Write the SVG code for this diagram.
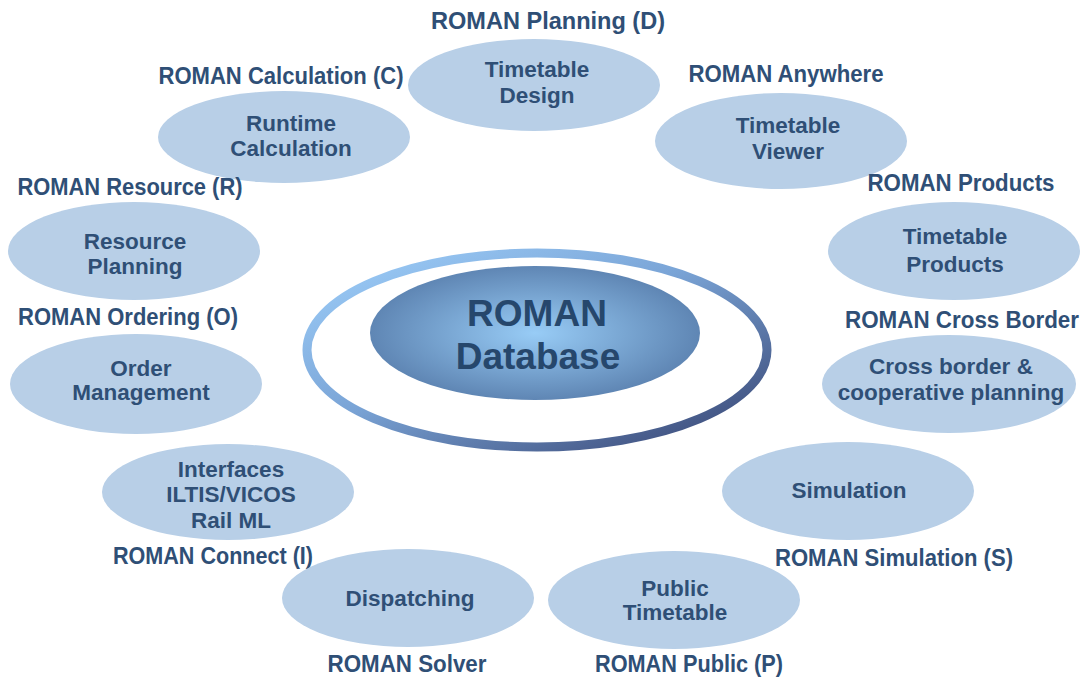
<svg xmlns="http://www.w3.org/2000/svg" width="1084" height="680" viewBox="0 0 1084 680">
<defs>
<linearGradient id="ring" x1="0" y1="0" x2="1" y2="1">
<stop offset="0" stop-color="#9fd0fb"/>
<stop offset="0.45" stop-color="#7aa4d6"/>
<stop offset="1" stop-color="#34406e"/>
</linearGradient>
<radialGradient id="core" cx="0.5" cy="0.5" r="0.5">
<stop offset="0" stop-color="#98ccf6"/>
<stop offset="1" stop-color="#5f86b4"/>
</radialGradient>
<style>
.n{fill:#b8cfe7;}
.t{font-family:"Liberation Sans",Arial,sans-serif;font-size:22.5px;font-weight:bold;fill:#2f4f76;text-anchor:middle;}
.h{font-size:23px;}
.c{font-size:37px;fill:#26476c;}
</style>
</defs>
<rect width="1084" height="680" fill="#ffffff"/>
<g id="center">
<ellipse cx="537" cy="350" rx="230" ry="97" fill="none" stroke="url(#ring)" stroke-width="9"/>
<ellipse cx="535" cy="333" rx="165" ry="67" fill="url(#core)"/>
<text class="t c" x="537" y="326">ROMAN</text>
<text class="t c" x="538" y="369">Database</text>
</g>
<g id="connectors"></g>
<g id="planning">
<ellipse class="n" cx="534" cy="85" rx="126" ry="46"/>
<text class="t h" x="548" y="29" textLength="234" lengthAdjust="spacingAndGlyphs">ROMAN Planning (D)</text>
<text class="t" x="537" y="77">Timetable</text>
<text class="t" x="537" y="103">Design</text>
</g>
<g id="calculation">
<ellipse class="n" cx="284" cy="137" rx="126" ry="46"/>
<text class="t h" x="281" y="84" textLength="245" lengthAdjust="spacingAndGlyphs">ROMAN Calculation (C)</text>
<text class="t" x="291" y="131">Runtime</text>
<text class="t" x="291" y="156">Calculation</text>
</g>
<g id="anywhere">
<ellipse class="n" cx="781" cy="141" rx="126" ry="48"/>
<text class="t h" x="786" y="82" textLength="195" lengthAdjust="spacingAndGlyphs">ROMAN Anywhere</text>
<text class="t" x="788" y="133">Timetable</text>
<text class="t" x="788" y="159">Viewer</text>
</g>
<g id="resource">
<ellipse class="n" cx="134" cy="251" rx="126" ry="49"/>
<text class="t h" x="130" y="195" textLength="225" lengthAdjust="spacingAndGlyphs">ROMAN Resource (R)</text>
<text class="t" x="135" y="249">Resource</text>
<text class="t" x="135" y="274">Planning</text>
</g>
<g id="products">
<ellipse class="n" cx="954" cy="251" rx="126" ry="49"/>
<text class="t h" x="961" y="191" textLength="187" lengthAdjust="spacingAndGlyphs">ROMAN Products</text>
<text class="t" x="955" y="244">Timetable</text>
<text class="t" x="955" y="272">Products</text>
</g>
<g id="ordering">
<ellipse class="n" cx="136" cy="384" rx="126" ry="50"/>
<text class="t h" x="128" y="325" textLength="220" lengthAdjust="spacingAndGlyphs">ROMAN Ordering (O)</text>
<text class="t" x="141" y="376">Order</text>
<text class="t" x="141" y="400">Management</text>
</g>
<g id="crossborder">
<ellipse class="n" cx="949" cy="384" rx="127" ry="49"/>
<text class="t h" x="962" y="328" textLength="234" lengthAdjust="spacingAndGlyphs">ROMAN Cross Border</text>
<text class="t" x="951" y="374">Cross border &amp;</text>
<text class="t" x="951" y="400">cooperative planning</text>
</g>
<g id="connect">
<ellipse class="n" cx="228" cy="492" rx="126" ry="48"/>
<text class="t" x="231" y="477">Interfaces</text>
<text class="t" x="231" y="502">ILTIS/VICOS</text>
<text class="t" x="231" y="528">Rail ML</text>
<text class="t h" x="213" y="564" textLength="200" lengthAdjust="spacingAndGlyphs">ROMAN Connect (I)</text>
</g>
<g id="simulation">
<ellipse class="n" cx="848" cy="491" rx="126" ry="49"/>
<text class="t" x="849" y="498">Simulation</text>
<text class="t h" x="894" y="566" textLength="238" lengthAdjust="spacingAndGlyphs">ROMAN Simulation (S)</text>
</g>
<g id="solver">
<ellipse class="n" cx="408" cy="598" rx="126" ry="49"/>
<text class="t" x="410" y="606">Dispatching</text>
<text class="t h" x="407" y="672" textLength="159" lengthAdjust="spacingAndGlyphs">ROMAN Solver</text>
</g>
<g id="public">
<ellipse class="n" cx="674" cy="600" rx="126" ry="49"/>
<text class="t" x="675" y="596">Public</text>
<text class="t" x="675" y="620">Timetable</text>
<text class="t h" x="689" y="672" textLength="188" lengthAdjust="spacingAndGlyphs">ROMAN Public (P)</text>
</g>
</svg>
